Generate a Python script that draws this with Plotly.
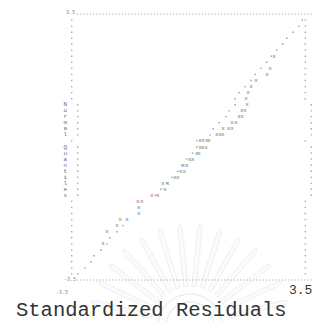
import math
import plotly.graph_objects as go

# Normal probability plot of standardized residuals, drawn in a line-printer style.

# Normal quantile of each printer row (top to bottom)
row_quantiles = [3.34, 3.18, 3.02, 2.86, 2.71, 2.55, 2.39, 2.23, 2.07, 1.91, 1.75,
                 1.59, 1.43, 1.27, 1.11, 0.95, 0.80, 0.64, 0.48, 0.32, 0.16, 0.00,
                 -0.16, -0.32, -0.48, -0.64, -0.80, -0.95, -1.11, -1.27, -1.43,
                 -1.59, -1.75, -1.91, -2.07, -2.23, -2.39, -2.55, -2.71, -2.86,
                 -3.02, -3.18, -3.34]

# Reference line position on each row (None where a residual covers it)
ref_line_x = [3.33, 3.23, 3.05, 2.86, 2.74, 2.56, 2.40, 2.26, 2.09, 1.91, 1.79,
              1.61, 1.43, 1.31, 1.13, 0.95, 0.86, 0.65, 0.47, 0.38, 0.16, -0.02,
              -0.15, -0.32, -0.47, -0.59, -0.77, -0.93, -1.10, -1.26, None,
              None, None, None, -2.06, -2.24, -2.45, -2.54, -2.72, -2.93,
              -3.02, -3.20, -3.41]

# Standardized residuals and their normal quantiles
resid_q = [2.39, 2.07, 1.91, 1.75, 1.59, 1.43, 1.27, 1.11,
           0.95, 0.95, 0.80, 0.80, 0.64, 0.64,
           0.48, 0.48, 0.48, 0.32, 0.32, 0.32,
           0.16, 0.16, 0.16, 0.16, 0.00, 0.00, 0.00,
           -0.16, -0.16, -0.32, -0.32, -0.48, -0.48, -0.64, -0.64,
           -0.80, -0.80, -0.95, -0.95, -1.11, -1.27, -1.27, -1.43, -1.43,
           -1.59, -1.75, -1.91, -1.91, -2.07, -2.23, -2.55]
resid_x = [2.48, 2.36, 2.27, 1.94, 1.79, 1.70, 1.64, 1.49,
           1.33, 1.43, 1.25, 1.34, 1.04, 1.15,
           0.77, 0.93, 1.04, 0.58, 0.68, 0.76,
           0.26, 0.35, 0.46, 0.53, 0.08, 0.16, 0.26,
           -0.02, 0.05, -0.23, -0.14, -0.43, -0.32, -0.50, -0.40,
           -0.68, -0.59, -1.04, -0.89, -0.98, -1.37, -1.19, -1.61, -1.49,
           -1.58, -1.58, -2.15, -1.94, -2.24, -2.54, -2.66]

y_title = "Normal Quantiles"
x_title = "Standardized Residuals"
axis_min_label = "-3.5"
axis_max_label = "3.5"

# ---- page geometry (pixels) ----
W = H = 322
FRAME_L, FRAME_R = 75, 308      # x = -3.5 .. 3.5
FRAME_T, FRAME_B = 14, 280      # y = 3.5 .. -3.5
LIM = 3.5
sx = 2 * LIM / (FRAME_R - FRAME_L)
sy = 2 * LIM / (FRAME_B - FRAME_T)
x_range = [-LIM - FRAME_L * sx, LIM + (W - FRAME_R) * sx]
y_range = [-LIM - (H - FRAME_B) * sy, LIM + FRAME_T * sy]


def px(p):
    return p / W


def py(p):
    return 1 - p / H


# the vertical title occupies rows 14..29; rows carrying a letter are pushed right
TITLE_FIRST_ROW = 14
ROW_SHIFT = 6 * sx
LEFT_EDGE_X = -LIM - 3.3 * sx
RIGHT_EDGE_X = LIM - 2.7 * sx
TITLE_X = -LIM - 9.7 * sx

row_letter = {}
for k, ch in enumerate(y_title):
    row_letter[row_quantiles[TITLE_FIRST_ROW + k]] = ch


def shift(q):
    return ROW_SHIFT if row_letter.get(q, " ") != " " else 0.0


mono = "Liberation Mono, Courier New, monospace"
fig = go.Figure()

# faint emblem in the background: a fan of rays around a dome
cx, cy = 190, 326
for k in range(14):
    a = math.radians(14 + k * 11.7)
    w = math.radians(3.2)
    r0, r1 = 40, 98
    pts = [(cx + r0 * math.cos(a - w), cy - r0 * math.sin(a - w)),
           (cx + r1 * math.cos(a - w * 0.4), cy - r1 * math.sin(a - w * 0.4)),
           (cx + (r1 + 4) * math.cos(a), cy - (r1 + 4) * math.sin(a)),
           (cx + r1 * math.cos(a + w * 0.4), cy - r1 * math.sin(a + w * 0.4)),
           (cx + r0 * math.cos(a + w), cy - r0 * math.sin(a + w))]
    path = "M " + " L ".join(f"{px(x):.4f},{py(y):.4f}" for x, y in pts) + " Z"
    fig.add_shape(type="path", xref="paper", yref="paper", path=path, layer="below",
                  fillcolor="rgba(0,0,0,0.015)", line=dict(color="#efefef", width=1))
for r in (24, 32):
    arc = [(cx + r * math.cos(math.radians(t)), cy - r * math.sin(math.radians(t)))
           for t in range(0, 181, 10)]
    path = "M " + " L ".join(f"{px(x):.4f},{py(y):.4f}" for x, y in arc)
    fig.add_shape(type="path", xref="paper", yref="paper", path=path, layer="below",
                  line=dict(color="#eeeeee", width=1.5))

# reference line dots
lx = [x + shift(q) for x, q in zip(ref_line_x, row_quantiles) if x is not None]
ly = [q for x, q in zip(ref_line_x, row_quantiles) if x is not None]
fig.add_trace(go.Scatter(x=lx, y=ly, mode="markers",
                         marker=dict(symbol="square", size=1.4, color="#9a9a9a"),
                         hoverinfo="skip"))

# left and right frame columns
fig.add_trace(go.Scatter(
    x=[LEFT_EDGE_X + shift(q) for q in row_quantiles] + [RIGHT_EDGE_X + shift(q) for q in row_quantiles],
    y=row_quantiles + row_quantiles, mode="markers",
    marker=dict(symbol="square", size=1.4, color="#a8a8a8"), hoverinfo="skip"))

# residual points, printed as x characters
fig.add_trace(go.Scatter(x=[x + shift(q) for x, q in zip(resid_x, resid_q)], y=resid_q,
                         mode="text", text=["x"] * len(resid_x),
                         textfont=dict(family=mono, size=6, color="#6f6f6f"),
                         hoverinfo="skip"))

# vertical axis title, one letter per row
fig.add_trace(go.Scatter(x=[TITLE_X] * len(row_letter), y=list(row_letter.keys()),
                         mode="text", text=list(row_letter.values()),
                         textfont=dict(family=mono, size=6, color="#6f6f6f"),
                         hoverinfo="skip"))

# dotted top and bottom rules
for yy in (FRAME_T, FRAME_B):
    fig.add_shape(type="line", xref="paper", yref="paper", x0=px(77), x1=px(312),
                  y0=py(yy), y1=py(yy),
                  line=dict(color="#a0a0a0", width=1, dash="1px,2.2px"))

small = dict(family=mono, size=5, color="#8a8a8a")
labels = [
    (70.5, 13.5, axis_max_label, small),
    (69.5, 279.5, axis_min_label, small),
    (62, 293.3, axis_min_label, small),
    (300, 290, axis_max_label, dict(family=mono, size=13, color="#333333")),
]
for x, y, t, f in labels:
    fig.add_annotation(x=px(x), y=py(y), xref="paper", yref="paper", text=t,
                       showarrow=False, font=f, xanchor="center", yanchor="middle")
fig.add_annotation(x=px(14), y=py(310), xref="paper", yref="paper", text=x_title,
                   showarrow=False, font=dict(family=mono, size=20.5, color="#333333"),
                   xanchor="left", yanchor="middle")

fig.update_layout(
    width=W, height=H,
    margin=dict(l=0, r=0, t=0, b=0),
    paper_bgcolor="white", plot_bgcolor="white",
    showlegend=False,
    xaxis=dict(range=x_range, visible=False, fixedrange=True),
    yaxis=dict(range=y_range, visible=False, fixedrange=True),
)

fig.write_html("out.html")
